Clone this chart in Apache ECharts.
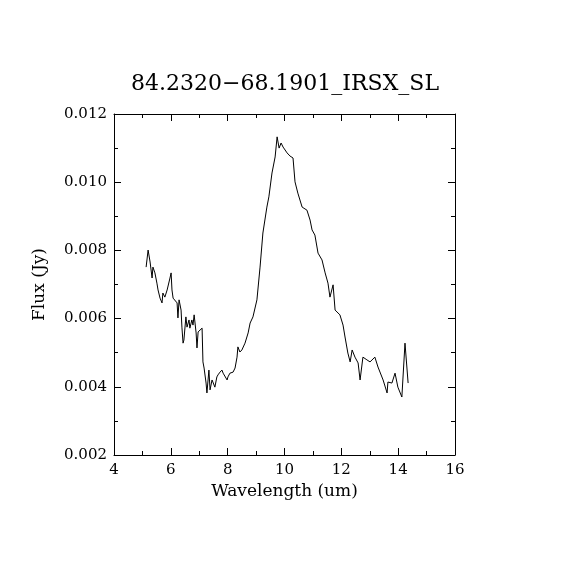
<!DOCTYPE html>
<html>
    <head>
        <meta charset="UTF-8" />
        <script src="https://cdn.jsdelivr.net/npm/echarts@6/dist/echarts.min.js"></script>
        <style>
            html, body { margin: 0; padding: 0; background: #fff; }
        </style>
    </head>
    <body>
        <div id="container" style="width: 570px; height: 570px;"></div>
        <script>
            // spectrum
            var wavelength = [
                5.13, 5.20, 5.27, 5.34, 5.37, 5.44, 5.51, 5.55, 5.62, 5.69,
                5.72, 5.79, 5.87, 5.97, 6.01, 6.04, 6.08, 6.15, 6.22, 6.25,
                6.29, 6.36, 6.39, 6.43, 6.46, 6.53, 6.57, 6.64, 6.67, 6.74,
                6.78, 6.82, 6.89, 6.92, 6.96, 7.03, 7.10, 7.13, 7.17, 7.24,
                7.27, 7.31, 7.34, 7.38, 7.45, 7.48, 7.55, 7.62, 7.66, 7.73,
                7.80, 7.84, 7.91, 7.98, 8.01, 8.08, 8.19, 8.26, 8.33, 8.36,
                8.43, 8.50, 8.61, 8.72, 8.79, 8.89, 9.03, 9.14, 9.24, 9.38,
                9.45, 9.56, 9.67, 9.74, 9.81, 9.88, 9.95, 10.09, 10.19, 10.30,
                10.37, 10.47, 10.62, 10.79, 10.90, 10.97, 11.07, 11.18, 11.32, 11.43,
                11.53, 11.60, 11.71, 11.78, 11.95, 12.06, 12.13, 12.23, 12.31, 12.38,
                12.48, 12.59, 12.66, 12.76, 12.90, 13.01, 13.18, 13.29, 13.47, 13.61,
                13.64, 13.78, 13.89, 13.99, 14.13, 14.24, 14.35
            ];
            var flux = [
                0.00751, 0.00801, 0.00766, 0.00719, 0.00751, 0.00734, 0.00704, 0.00684, 0.00660, 0.00646,
                0.00675, 0.00663, 0.00684, 0.00719, 0.00734, 0.00684, 0.00660, 0.00663, 0.00646, 0.00602,
                0.00655, 0.00625, 0.00575, 0.00528, 0.00537, 0.00605, 0.00575, 0.00596, 0.00572, 0.00596,
                0.00581, 0.00611, 0.00558, 0.00514, 0.00561, 0.00558, 0.00572, 0.00473, 0.00455, 0.00411,
                0.00382, 0.00420, 0.00449, 0.00391, 0.00420, 0.00414, 0.00399, 0.00429, 0.00435, 0.00443,
                0.00449, 0.00440, 0.00435, 0.00420, 0.00429, 0.00440, 0.00443, 0.00455, 0.00487, 0.00517,
                0.00502, 0.00508, 0.00528, 0.00558, 0.00587, 0.00605, 0.00655, 0.00751, 0.00851, 0.00927,
                0.00957, 0.01027, 0.01074, 0.01133, 0.01100, 0.01115, 0.01103, 0.01086, 0.01077, 0.01071,
                0.01001, 0.00968, 0.00927, 0.00918, 0.00889, 0.00860, 0.00845, 0.00792, 0.00772, 0.00734,
                0.00704, 0.00663, 0.00699, 0.00625, 0.00611, 0.00581, 0.00546, 0.00499, 0.00473, 0.00508,
                0.00487, 0.00470, 0.00420, 0.00487, 0.00479, 0.00473, 0.00487, 0.00458, 0.00420, 0.00382,
                0.00414, 0.00411, 0.00440, 0.00399, 0.00370, 0.00528, 0.00411
            ];
            var titleText = '84.2320\u221268.1901_IRSX_SL';
            var xName = 'Wavelength (um)';
            var yName = 'Flux (Jy)';

            var serif = 'DejaVu Serif';
            var ink = '#000';

            var points = [];
            for (var i = 0; i < wavelength.length; i++) {
                points.push([wavelength[i], flux[i]]);
            }

            function frameAxis(extra) {
                var axis = {
                    type: 'value',
                    axisLine: { show: true, onZero: false, lineStyle: { color: ink, width: 1 } },
                    axisTick: { show: true, inside: true, length: 7, lineStyle: { color: ink } },
                    minorTick: { show: true, splitNumber: 2, length: 4, lineStyle: { color: ink } },
                    splitLine: { show: false },
                    minorSplitLine: { show: false },
                    axisLabel: { show: false }
                };
                for (var k in extra) axis[k] = extra[k];
                return axis;
            }

            var chart = echarts.init(document.getElementById('container'), null, { renderer: 'canvas' });
            chart.setOption({
                animation: false,
                backgroundColor: '#fff',
                title: {
                    text: titleText,
                    left: 'center',
                    top: 68,
                    textStyle: { fontFamily: serif, fontWeight: 'normal', fontSize: 22, color: ink }
                },
                grid: { left: 114, top: 114, width: 341, height: 341 },
                xAxis: [
                    frameAxis({
                        position: 'bottom', min: 4, max: 16, interval: 2,
                        name: xName, nameLocation: 'middle', nameGap: 28,
                        nameTextStyle: { fontFamily: serif, fontSize: 17, color: ink },
                        axisLabel: { show: true, margin: 8, fontFamily: serif, fontSize: 15, color: ink }
                    }),
                    frameAxis({ position: 'top', min: 4, max: 16, interval: 2 })
                ],
                yAxis: [
                    frameAxis({
                        position: 'left', min: 0.002, max: 0.012, interval: 0.002,
                        name: yName, nameLocation: 'middle', nameGap: 66,
                        nameTextStyle: { fontFamily: serif, fontSize: 17, color: ink },
                        axisLabel: {
                            show: true, margin: 7, fontFamily: serif, fontSize: 15, color: ink,
                            formatter: function (v) { return v.toFixed(3); }
                        }
                    }),
                    frameAxis({ position: 'right', min: 0.002, max: 0.012, interval: 0.002 })
                ],
                series: [{
                    type: 'line',
                    xAxisIndex: 0,
                    yAxisIndex: 0,
                    data: points,
                    showSymbol: false,
                    lineStyle: { color: ink, width: 1 }
                }]
            });
        </script>
    </body>
</html>
